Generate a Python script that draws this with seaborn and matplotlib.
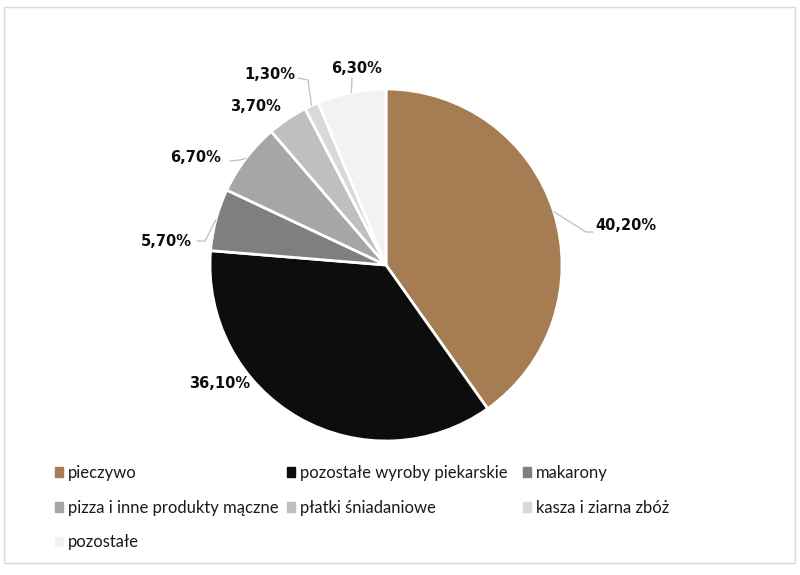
import numpy as np
import matplotlib
matplotlib.use("Agg")
import matplotlib.pyplot as plt
import matplotlib.patches as mpatches
import seaborn as sns

# dane
kategorie = ['pieczywo', 'pozostałe wyroby piekarskie', 'makarony',
             'pizza i inne produkty mączne', 'płatki śniadaniowe',
             'kasza i ziarna zbóż', 'pozostałe']
udzial = [40.2, 36.1, 5.7, 6.7, 3.7, 1.3, 6.3]
kolory = ['#A67C52', '#0D0D0D', '#7F7F7F', '#A6A6A6', '#BFBFBF', '#D9D9D9', '#F2F2F2']

# ręczne rozmieszczenie etykiet (jednostki promienia koła)
etykiety_xy = [(1.364, 0.222), (-0.943, -0.676), (-1.25, 0.131), (-1.080, 0.608),
               (-0.744, 0.903), (-0.659, 1.085), (-0.165, 1.119)]
# linie odniesienia: (koniec przy etykiecie, kolano) lub None
linie = [((1.176, 0.1875), (1.136, 0.1875)), None,
         ((-1.074, 0.136), (-1.028, 0.136)),
         ((-0.886, 0.591), (-0.830, 0.597)), None,
         ((-0.500, 1.0625), (-0.443, 1.051)),
         ((-0.193, 1.0625), (-0.193, 1.0625))]

sns.set_theme(style='white')
plt.rcParams['font.family'] = ['DejaVu Sans']

W, H = 800, 575
fig = plt.figure(figsize=(W / 100, H / 100), dpi=100)
fig.patch.set_facecolor('white')

# ramka wykresu
fig.add_artist(mpatches.Rectangle((4 / W, 1 - 563 / H), 791 / W, 556 / H,
                                  transform=fig.transFigure, fill=False,
                                  edgecolor='#D9D9D9', lw=1))

cx, cy, r = 386, 265, 176
ax = fig.add_axes([(cx - r) / W, 1 - (cy + r) / H, 2 * r / W, 2 * r / H])
wedges, _ = ax.pie(udzial, colors=kolory, startangle=90, counterclock=False,
                   radius=1, wedgeprops=dict(edgecolor='white', linewidth=2))
ax.set_xlim(-1, 1)
ax.set_ylim(-1, 1)
ax.set_aspect('equal')
ax.axis('off')

for w, val, (lx, ly), ln in zip(wedges, udzial, etykiety_xy, linie):
    txt = f'{val:.2f}'.replace('.', ',') + '%'
    ax.text(lx, ly, txt, ha='center', va='center', fontsize=10.5,
            fontweight='bold', color='#0D0D0D', clip_on=False)
    if ln is not None:
        kat = np.deg2rad((w.theta1 + w.theta2) / 2)
        ex, ey = np.cos(kat), np.sin(kat)
        (x0, y0), (x1, y1) = ln
        ax.plot([x0, x1, ex], [y0, y1, ey], color='#BFBFBF', lw=0.9,
                clip_on=False)

# legenda wierszami jak w Excelu: trzy kolumny o stałej szerokości
kolumny = [[0, 3, 6], [1, 4], [2, 5]]
kol_x = [55, 287, 523]
for idx, x in zip(kolumny, kol_x):
    uchwyty = [mpatches.Patch(color=kolory[i], label=kategorie[i]) for i in idx]
    leg = fig.legend(handles=uchwyty, ncol=1, loc='upper left',
                     bbox_to_anchor=(x / W, 1 - 465 / H), frameon=False,
                     prop={'family': ['Lato', 'DejaVu Sans'], 'size': 12},
                     handlelength=0.45, handleheight=0.5, handletextpad=0.35,
                     labelspacing=1.12, borderaxespad=0, borderpad=0)
    for t in leg.get_texts():
        t.set_color('#1A1A1A')

fig.savefig('out.png', dpi=100)
